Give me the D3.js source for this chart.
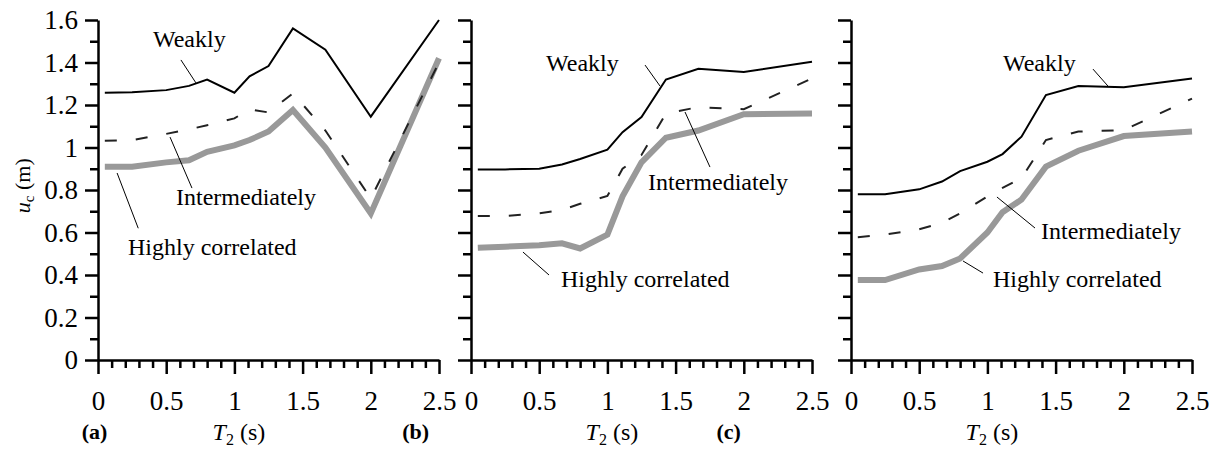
<!DOCTYPE html>
<html>
<head>
<meta charset="utf-8">
<script src="https://cdn.jsdelivr.net/npm/d3@7"></script>
<style>
  body { margin: 0; font-family: 'Liberation Serif'; }
  #chart { position: relative; width: 1221px; height: 452px; }
  .panel-letter { position: absolute; top: 421px; font-family: 'Liberation Serif'; font-size: 22px; line-height: 1; font-weight: bold; }
</style>
</head>
<body>
<div id="chart">
  <div class="panel-letter">(a)</div>
  <div class="panel-letter">(b)</div>
  <div class="panel-letter">(c)</div>
</div>
<script>
// period grid shared by all three panels
const T = [0.05, 0.25, 0.5, 0.667, 0.8, 1.0, 1.111, 1.25, 1.429, 1.667, 2.0, 2.5];

const weakA  = [1.258, 1.26, 1.27, 1.29, 1.32, 1.258, 1.335, 1.383, 1.56, 1.46, 1.145, 1.60];
const interA = [1.032, 1.035, 1.064, 1.085, 1.105, 1.137, 1.18, 1.165, 1.255, 1.08, 0.76, 1.40];
const highA  = [0.91, 0.91, 0.93, 0.94, 0.98, 1.01, 1.035, 1.075, 1.176, 1.0, 0.69, 1.42];

const weakB  = [0.897, 0.897, 0.90, 0.92, 0.946, 0.99, 1.072, 1.143, 1.32, 1.37, 1.355, 1.404];
const interB = [0.678, 0.678, 0.69, 0.706, 0.735, 0.772, 0.90, 0.965, 1.16, 1.19, 1.18, 1.325];
const highB  = [0.528, 0.533, 0.54, 0.549, 0.525, 0.59, 0.77, 0.93, 1.046, 1.08, 1.157, 1.16];

const weakC  = [0.78, 0.78, 0.803, 0.84, 0.889, 0.933, 0.969, 1.051, 1.247, 1.289, 1.283, 1.325];
const interC = [0.578, 0.59, 0.615, 0.645, 0.69, 0.77, 0.81, 0.855, 1.035, 1.075, 1.082, 1.23];
const highC  = [0.376, 0.376, 0.426, 0.442, 0.478, 0.6, 0.695, 0.755, 0.91, 0.985, 1.054, 1.075];

const xMajor = [0, 0.5, 1, 1.5, 2, 2.5];
const yMajor = [0, 0.2, 0.4, 0.6, 0.8, 1, 1.2, 1.4, 1.6];
const curveNames = ["Weakly", "Intermediately", "Highly correlated"];

// annotation anchors in data units: text start [T,u], leader from/to
const notesA = [
  {text: [0.403, 1.473], from: [0.608, 1.412], to: [0.718, 1.304]},
  {text: [0.572, 0.729], from: [0.528, 1.049], to: [0.689, 0.809]},
  {text: [0.22, 0.494],  from: [0.14, 0.88],   to: [0.295, 0.62]}
];
const notesB = [
  {text: [0.55, 1.36],   from: [1.276, 1.388], to: [1.386, 1.289]},
  {text: [1.298, 0.80],  from: [1.569, 1.167], to: [1.752, 0.908]},
  {text: [0.66, 0.344],  from: [0.381, 0.508], to: [0.572, 0.40]}
];
const notesC = [
  {text: [1.114, 1.36],  from: [1.774, 1.369], to: [1.884, 1.289]},
  {text: [1.393, 0.569], from: [1.07, 0.767],  to: [1.349, 0.621]},
  {text: [1.041, 0.344], from: [0.821, 0.466], to: [0.968, 0.409]}
];

const panels = [
  {left: 98,  series: [weakA, interA, highA], notes: notesA, yLabels: true},
  {left: 471, series: [weakB, interB, highB], notes: notesB, yLabels: false},
  {left: 851, series: [weakC, interC, highC], notes: notesC, yLabels: false}
];

const W = 1221, H = 452;
const plotTop = 20, plotH = 340, plotW = 341;
const fontName = "Liberation Serif";

const container = d3.select("#chart");
const svg = container.insert("svg", ":first-child")
  .attr("width", W).attr("height", H)
  .style("display", "block");

const x = d3.scaleLinear().domain([0, 2.5]).range([0, plotW]);
const y = d3.scaleLinear().domain([0, 1.6]).range([plotH, 0]);

const xMinor = d3.range(0, 2.5001, 0.1).filter(v => Math.abs(v * 2 - Math.round(v * 2)) > 1e-6);
const yMinor = d3.range(0, 1.6001, 0.1).filter(v => Math.abs(v * 5 - Math.round(v * 5)) > 1e-6);

const styles = [
  {stroke: "#000", width: 2, dash: null},
  {stroke: "#222", width: 2, dash: "12,19"},
  {stroke: "#999", width: 6, dash: null}
];
const drawOrder = [2, 1, 0];

function styleAxis(g) {
  g.attr("font-family", fontName);
  g.selectAll("path, line").attr("stroke", "#000").attr("stroke-width", 2.5);
  g.selectAll("text").attr("fill", "#000").attr("font-size", 27)
    .attr("font-family", fontName);
}

panels.forEach((p, i) => {
  const g = svg.append("g").attr("transform", `translate(${p.left},${plotTop})`);

  const line = d3.line().x((d, j) => x(T[j])).y(d => y(d));
  drawOrder.forEach(k => {
    g.append("path")
      .datum(p.series[k])
      .attr("fill", "none")
      .attr("stroke", styles[k].stroke)
      .attr("stroke-width", styles[k].width)
      .attr("stroke-dasharray", styles[k].dash)
      .attr("stroke-linejoin", "miter")
      .attr("d", line);
  });

  // y axis
  const yAx = g.append("g")
    .call(d3.axisLeft(y).tickValues(yMajor).tickSize(13).tickSizeOuter(0).tickPadding(7)
      .tickFormat(p.yLabels ? d3.format("") : ""));
  styleAxis(yAx);
  const yMin = g.append("g")
    .call(d3.axisLeft(y).tickValues(yMinor).tickSize(8).tickSizeOuter(0).tickFormat(""));
  yMin.select(".domain").remove();
  styleAxis(yMin);

  // x axis
  const xAx = g.append("g").attr("transform", `translate(0,${plotH})`)
    .call(d3.axisBottom(x).tickValues(xMajor).tickSize(14).tickSizeOuter(0).tickPadding(17)
      .tickFormat(d3.format("")));
  styleAxis(xAx);
  const xMin = g.append("g").attr("transform", `translate(0,${plotH})`)
    .call(d3.axisBottom(x).tickValues(xMinor).tickSize(8).tickSizeOuter(0).tickFormat(""));
  xMin.select(".domain").remove();
  styleAxis(xMin);

  // curve annotations
  p.notes.forEach((n, k) => {
    g.append("line")
      .attr("x1", x(n.from[0])).attr("y1", y(n.from[1]))
      .attr("x2", x(n.to[0])).attr("y2", y(n.to[1]))
      .attr("stroke", "#000").attr("stroke-width", 1);
    g.append("text")
      .attr("x", x(n.text[0])).attr("y", y(n.text[1]))
      .attr("font-family", fontName)
      .attr("font-size", 24)
      .text(curveNames[k]);
  });

  // x axis title
  const xt = g.append("text")
    .attr("x", x(0.84)).attr("y", 440 - plotTop)
    .attr("font-family", fontName)
    .attr("font-size", 24);
  xt.append("tspan").attr("font-style", "italic").text("T");
  xt.append("tspan").attr("font-size", 16).attr("dy", 5).text("2");
  xt.append("tspan").attr("dy", -5).text(" (s)");
});

// panel letters (static html) placed under the axes
const letterPos = [[panels[0].left, -0.12], [panels[0].left, 2.23], [panels[1].left, 1.8]];
container.selectAll(".panel-letter")
  .data(letterPos)
  .style("left", ([left, t]) => (left + x(t)) + "px");

// y axis title
const yt = svg.append("text")
  .attr("transform", `translate(30,${plotTop + y(0.82)}) rotate(-90)`)
  .attr("text-anchor", "middle")
  .attr("font-family", fontName)
  .attr("font-size", 22);
yt.append("tspan").attr("font-style", "italic").text("u");
yt.append("tspan").attr("font-size", 15).attr("dy", 4).text("c");
yt.append("tspan").attr("dy", -4).text(" (m)");
</script>
</body>
</html>
